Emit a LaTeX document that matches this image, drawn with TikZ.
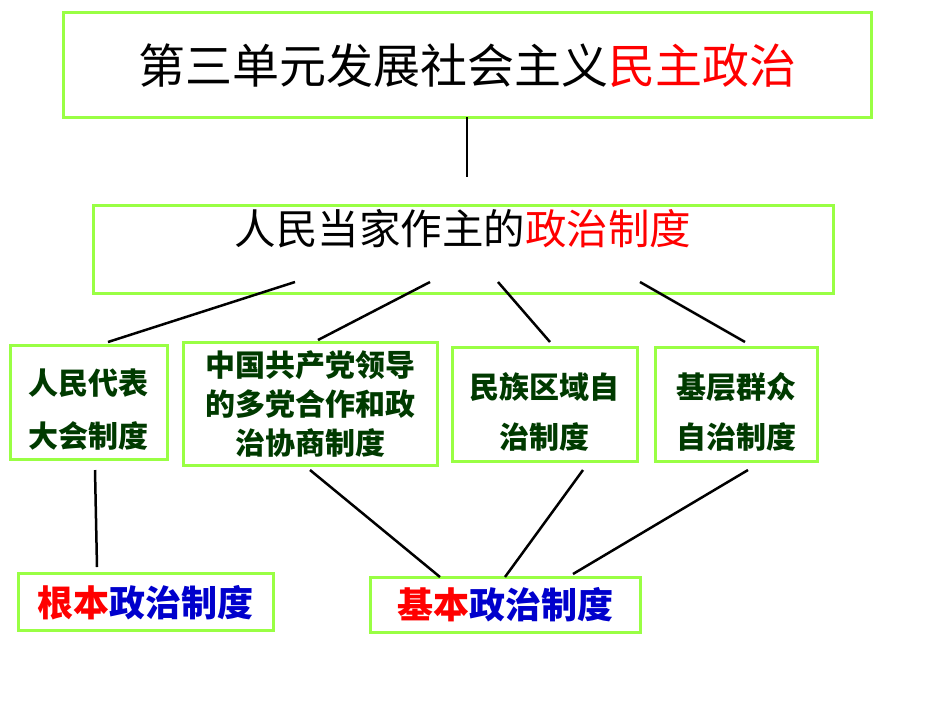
\documentclass[tikz,border=0pt]{standalone}
\usepackage{fontspec}
\newfontfamily\cjk{Noto Sans CJK SC}
\definecolor{bgreen}{HTML}{99FF44}
\definecolor{dgreen}{HTML}{003A00}
\definecolor{dblue}{HTML}{0000CC}
\begin{document}
\begin{tikzpicture}[x=1pt,y=-1pt,
  box/.style={draw=bgreen,line width=3pt,inner sep=0pt},
  small/.style={text=dgreen,align=center},
  conn/.style={line width=2.5pt,black}]
\useasboundingbox (0,0) rectangle (950,713);
\node[box,minimum width=808pt,minimum height=105pt] (title) at (467,64.5) {};
\node[font=\cjk\fontsize{47}{52}\selectfont] (tt) at (467,66) {第三单元发展社会主义\textcolor{red}{民主政治}};
\node[box,minimum width=740pt,minimum height=88pt] (b2) at (463,249) {};
\node[font=\cjk\fontsize{41.5}{46}\selectfont] (b2t) at (463,229) {人民当家作主的\textcolor{red}{政治制度}};
\node[box,minimum width=157pt,minimum height=114pt] (A) at (88.5,402) {};
\node[small,font=\cjk\bfseries\fontsize{30}{53}\selectfont] (At) at (88.5,410) {人民代表\\大会制度};
\node[box,minimum width=254pt,minimum height=123pt] (B) at (310,403.5) {};
\node[small,font=\cjk\bfseries\fontsize{30}{39}\selectfont] (Bt) at (310,404) {中国共产党领导\\的多党合作和政\\治协商制度};
\node[box,minimum width=185pt,minimum height=114pt] (C) at (544.5,404) {};
\node[small,font=\cjk\bfseries\fontsize{30}{50}\selectfont] (Ct) at (544.5,412) {民族区域自\\治制度};
\node[box,minimum width=162pt,minimum height=114pt] (D) at (736,404) {};
\node[small,font=\cjk\bfseries\fontsize{30}{50}\selectfont] (Dt) at (736,412) {基层群众\\自治制度};
\node[box,minimum width=255pt,minimum height=57pt] (E) at (145.5,601.5) {};
\node[font=\cjk\bfseries\fontsize{36}{40}\selectfont,text=dblue] (Et) at (145.5,603) {\textcolor{red}{根本}政治制度};
\node[box,minimum width=270pt,minimum height=55pt] (F) at (505,604.5) {};
\node[font=\cjk\bfseries\fontsize{36}{40}\selectfont,text=dblue] (Ft) at (505,605) {\textcolor{red}{基本}政治制度};
\coordinate (t1) at (467,117); \coordinate (t2) at (467,177);
\draw[conn] (t1) -- (t2);
\coordinate (a1) at (295,282); \coordinate (a2) at (108,342);
\coordinate (b1) at (430,282); \coordinate (bb2) at (318,340);
\coordinate (c1) at (498,282); \coordinate (c2) at (550,342);
\coordinate (d1) at (640,282); \coordinate (d2) at (745,342);
\draw[conn] (a1)--(a2) (b1)--(bb2) (c1)--(c2) (d1)--(d2);
\coordinate (e1) at (95,470); \coordinate (e2) at (97,567);
\coordinate (f1) at (310,470); \coordinate (f2) at (440,577);
\coordinate (g1) at (583,470); \coordinate (g2) at (505,577);
\coordinate (h1) at (748,470); \coordinate (h2) at (573,574);
\draw[conn] (e1)--(e2) (f1)--(f2) (g1)--(g2) (h1)--(h2);
\end{tikzpicture}
\end{document}
